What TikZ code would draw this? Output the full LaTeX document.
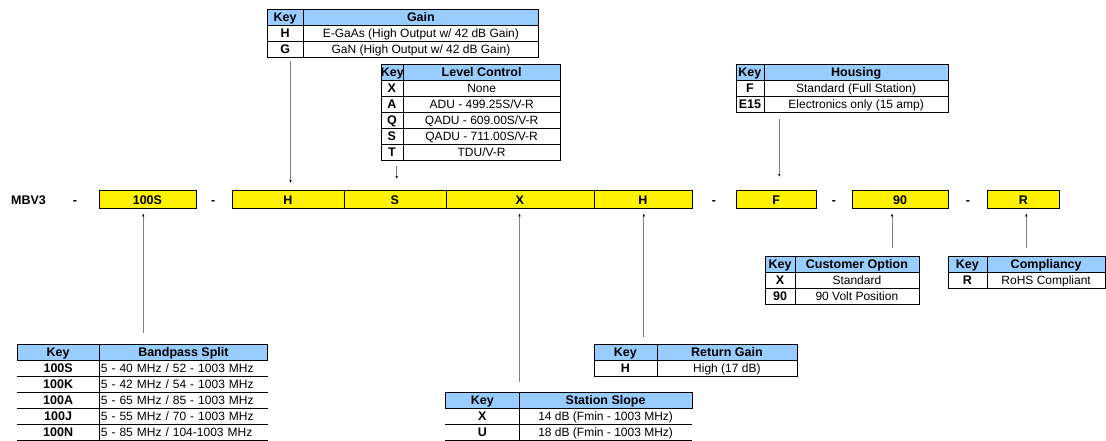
\documentclass[tikz,border=0pt]{standalone}
\usepackage{fontspec}
\setmainfont{Liberation Sans}
\usetikzlibrary{arrows.meta}
\definecolor{hdrblue}{HTML}{99CCFF}
\definecolor{linegray}{HTML}{808080}
\newcommand{\rfz}{\fontsize{12}{14}\selectfont}
\newcommand{\bfz}{\fontsize{12.5}{14}\selectfont\bfseries}
\tikzset{
  base/.style={inner sep=0pt, anchor=north west, line width=0.8pt, text height=8.8pt, text depth=0.4pt},
  hdrkey/.style={base, draw=black, fill=hdrblue, font=\bfz},
  hdrval/.style={base, draw=black, fill=hdrblue, font=\bfz},
  rowkey/.style={base, draw=black, font=\bfz},
  rowval/.style={base, draw=black, font=\rfz},
  openkey/.style={base, font=\bfz},
  openval/.style={base, font=\rfz},
  openLkey/.style={base, font=\bfz},
  openLval/.style={base, font=\rfz, inner xsep=1.5pt, text width=165pt, align=left},
  codebox/.style={draw=black, fill=yellow, line width=0.8pt, anchor=north west, inner sep=0pt,
                  minimum height=17.5pt, font=\bfz, text height=10pt, text depth=0pt},
  lbl/.style={font=\bfz, inner sep=0pt, anchor=base},
  pointer/.style={draw=linegray, line width=0.75pt, -{Latex[length=3pt,width=2.4pt,color=black]}},
  tline/.style={line width=0.8pt, draw=black}
}
\newcommand{\trow}[9]{%
  \pgfmathsetmacro{\wk}{#3-#2}%
  \pgfmathsetmacro{\wv}{#4-#3}%
  \node[#7key, minimum width=\wk pt, minimum height=#6pt] (#1k) at (#2,#5) {#8};%
  \node[#7val, minimum width=\wv pt, minimum height=#6pt] (#1v) at (#3,#5) {#9};%
}
\begin{document}
\begin{tikzpicture}[x=1pt, y=-1pt]
\useasboundingbox (0,0) rectangle (1106,440);
\fill[white] (0,0) rectangle (1106,440);

% ---- main code row ----
\node[lbl] (mbv) at (28.5,204) {MBV3};
\node[lbl] (d1) at (75,204) {-};
\node[codebox, minimum width=97pt] (c100S) at (98.5,190) {100S};
\node[lbl] (d2) at (213.3,204) {-};
\node[codebox, minimum width=112pt] (cH) at (231.5,190) {H};
\node[codebox, minimum width=102pt] (cS) at (343.5,190) {S};
\node[codebox, minimum width=148pt] (cX) at (445.5,190) {X};
\node[codebox, minimum width=98pt] (cH2) at (593.5,190) {H};
\node[lbl] (d3) at (714,204) {-};
\node[codebox, minimum width=80.5pt] (cF) at (735.5,190) {F};
\node[lbl] (d4) at (834,204) {-};
\node[codebox, minimum width=96.5pt] (c90) at (851.5,190) {90};
\node[lbl] (d5) at (968,204) {-};
\node[codebox, minimum width=72pt] (cR) at (987,190) {R};

% ---- Gain ----
\trow{g0}{266.5}{303}{538}{8.5}{16}{hdr}{Key}{Gain}
\trow{g1}{266.5}{303}{538}{24.5}{16}{row}{H}{E-GaAs (High Output w/ 42 dB Gain)}
\trow{g2}{266.5}{303}{538}{40.5}{16}{row}{G}{GaN (High Output w/ 42 dB Gain)}

% ---- Level Control ----
\trow{l0}{380.5}{402.5}{560}{63.5}{16}{hdr}{Key}{Level Control}
\trow{l1}{380.5}{402.5}{560}{79.5}{16}{row}{X}{None}
\trow{l2}{380.5}{402.5}{560}{95.5}{16}{row}{A}{ADU - 499.25S/V-R}
\trow{l3}{380.5}{402.5}{560}{111.5}{16}{row}{Q}{QADU - 609.00S/V-R}
\trow{l4}{380.5}{402.5}{560}{127.5}{16}{row}{S}{QADU - 711.00S/V-R}
\trow{l5}{380.5}{402.5}{560}{143.5}{16}{row}{T}{TDU/V-R}

% ---- Housing ----
\trow{h0}{735.5}{763.5}{948}{63.5}{16}{hdr}{Key}{Housing}
\trow{h1}{735.5}{763.5}{948}{79.5}{16}{row}{F}{Standard (Full Station)}
\trow{h2}{735.5}{763.5}{948}{95.5}{16}{row}{E15}{Electronics only (15 amp)}

% ---- Customer Option ----
\trow{co0}{765}{794.5}{918.5}{255.5}{16}{hdr}{Key}{Customer Option}
\trow{co1}{765}{794.5}{918.5}{271.5}{16}{row}{X}{Standard}
\trow{co2}{765}{794.5}{918.5}{287.5}{16}{row}{90}{90 Volt Position}

% ---- Compliancy ----
\trow{cp0}{947.5}{986.5}{1105}{255.5}{16}{hdr}{Key}{Compliancy}
\trow{cp1}{947.5}{986.5}{1105}{271.5}{16}{row}{R}{RoHS Compliant}

% ---- Return Gain ----
\trow{rg0}{593.5}{656.5}{796.5}{343.5}{16}{hdr}{Key}{Return Gain}
\trow{rg1}{593.5}{656.5}{796.5}{359.5}{16}{row}{H}{High (17 dB)}

% ---- Station Slope ----
\trow{ss0}{445}{519}{691.5}{391.5}{16}{hdr}{Key}{Station Slope}
\trow{ss1}{445}{519}{691.5}{407.5}{16}{open}{X}{14 dB (Fmin - 1003 MHz)}
\trow{ss2}{445}{519}{691.5}{423.5}{16}{open}{U}{18 dB (Fmin - 1003 MHz)}
\draw[tline] (ss1k.south west) -- (ss1v.south east);
\draw[tline] (ss2k.south west) -- (ss2v.south east);
\draw[tline] (ss1k.north east) -- (ss2k.south east);

% ---- Bandpass Split ----
\trow{bp0}{16.5}{99}{267}{343.5}{16}{hdr}{Key}{Bandpass Split}
\trow{bp1}{16.5}{99}{267}{359.5}{16}{openL}{100S}{5 - 40 MHz / 52 - 1003 MHz}
\trow{bp2}{16.5}{99}{267}{375.5}{16}{openL}{100K}{5 - 42 MHz / 54 - 1003 MHz}
\trow{bp3}{16.5}{99}{267}{391.5}{16}{openL}{100A}{5 - 65 MHz / 85 - 1003 MHz}
\trow{bp4}{16.5}{99}{267}{407.5}{16}{openL}{100J}{5 - 55 MHz / 70 - 1003 MHz}
\trow{bp5}{16.5}{99}{267}{423.5}{16}{openL}{100N}{5 - 85 MHz / 104-1003 MHz}
\foreach \r in {1,...,5}{\draw[tline] (bp\r k.south west) -- (bp\r v.south east);}
\draw[tline] (bp1k.north east) -- (bp5k.south east);

% ---- pointers ----
\coordinate (tGain) at (290.5,61);
\draw[pointer, shorten >=7pt] (tGain) -- (tGain |- cH.north);
\coordinate (tLev) at (396.7,166);
\draw[pointer, shorten >=11pt] (tLev) -- (tLev |- cS.north);
\coordinate (tHou) at (779.3,119);
\draw[pointer, shorten >=13pt] (tHou) -- (tHou |- cF.north);
\coordinate (tBand) at (143.3,333);
\draw[pointer, shorten >=5pt] (tBand) -- (tBand |- c100S.south);
\coordinate (tSlope) at (519.5,382);
\draw[pointer, shorten >=5pt] (tSlope) -- (tSlope |- cX.south);
\coordinate (tRet) at (643.8,337);
\draw[pointer, shorten >=5pt] (tRet) -- (tRet |- cH2.south);
\coordinate (tCust) at (892,248);
\draw[pointer, shorten >=5pt] (tCust) -- (tCust |- c90.south);
\coordinate (tComp) at (1026.3,248);
\draw[pointer, shorten >=5pt] (tComp) -- (tComp |- cR.south);
\end{tikzpicture}
\end{document}
